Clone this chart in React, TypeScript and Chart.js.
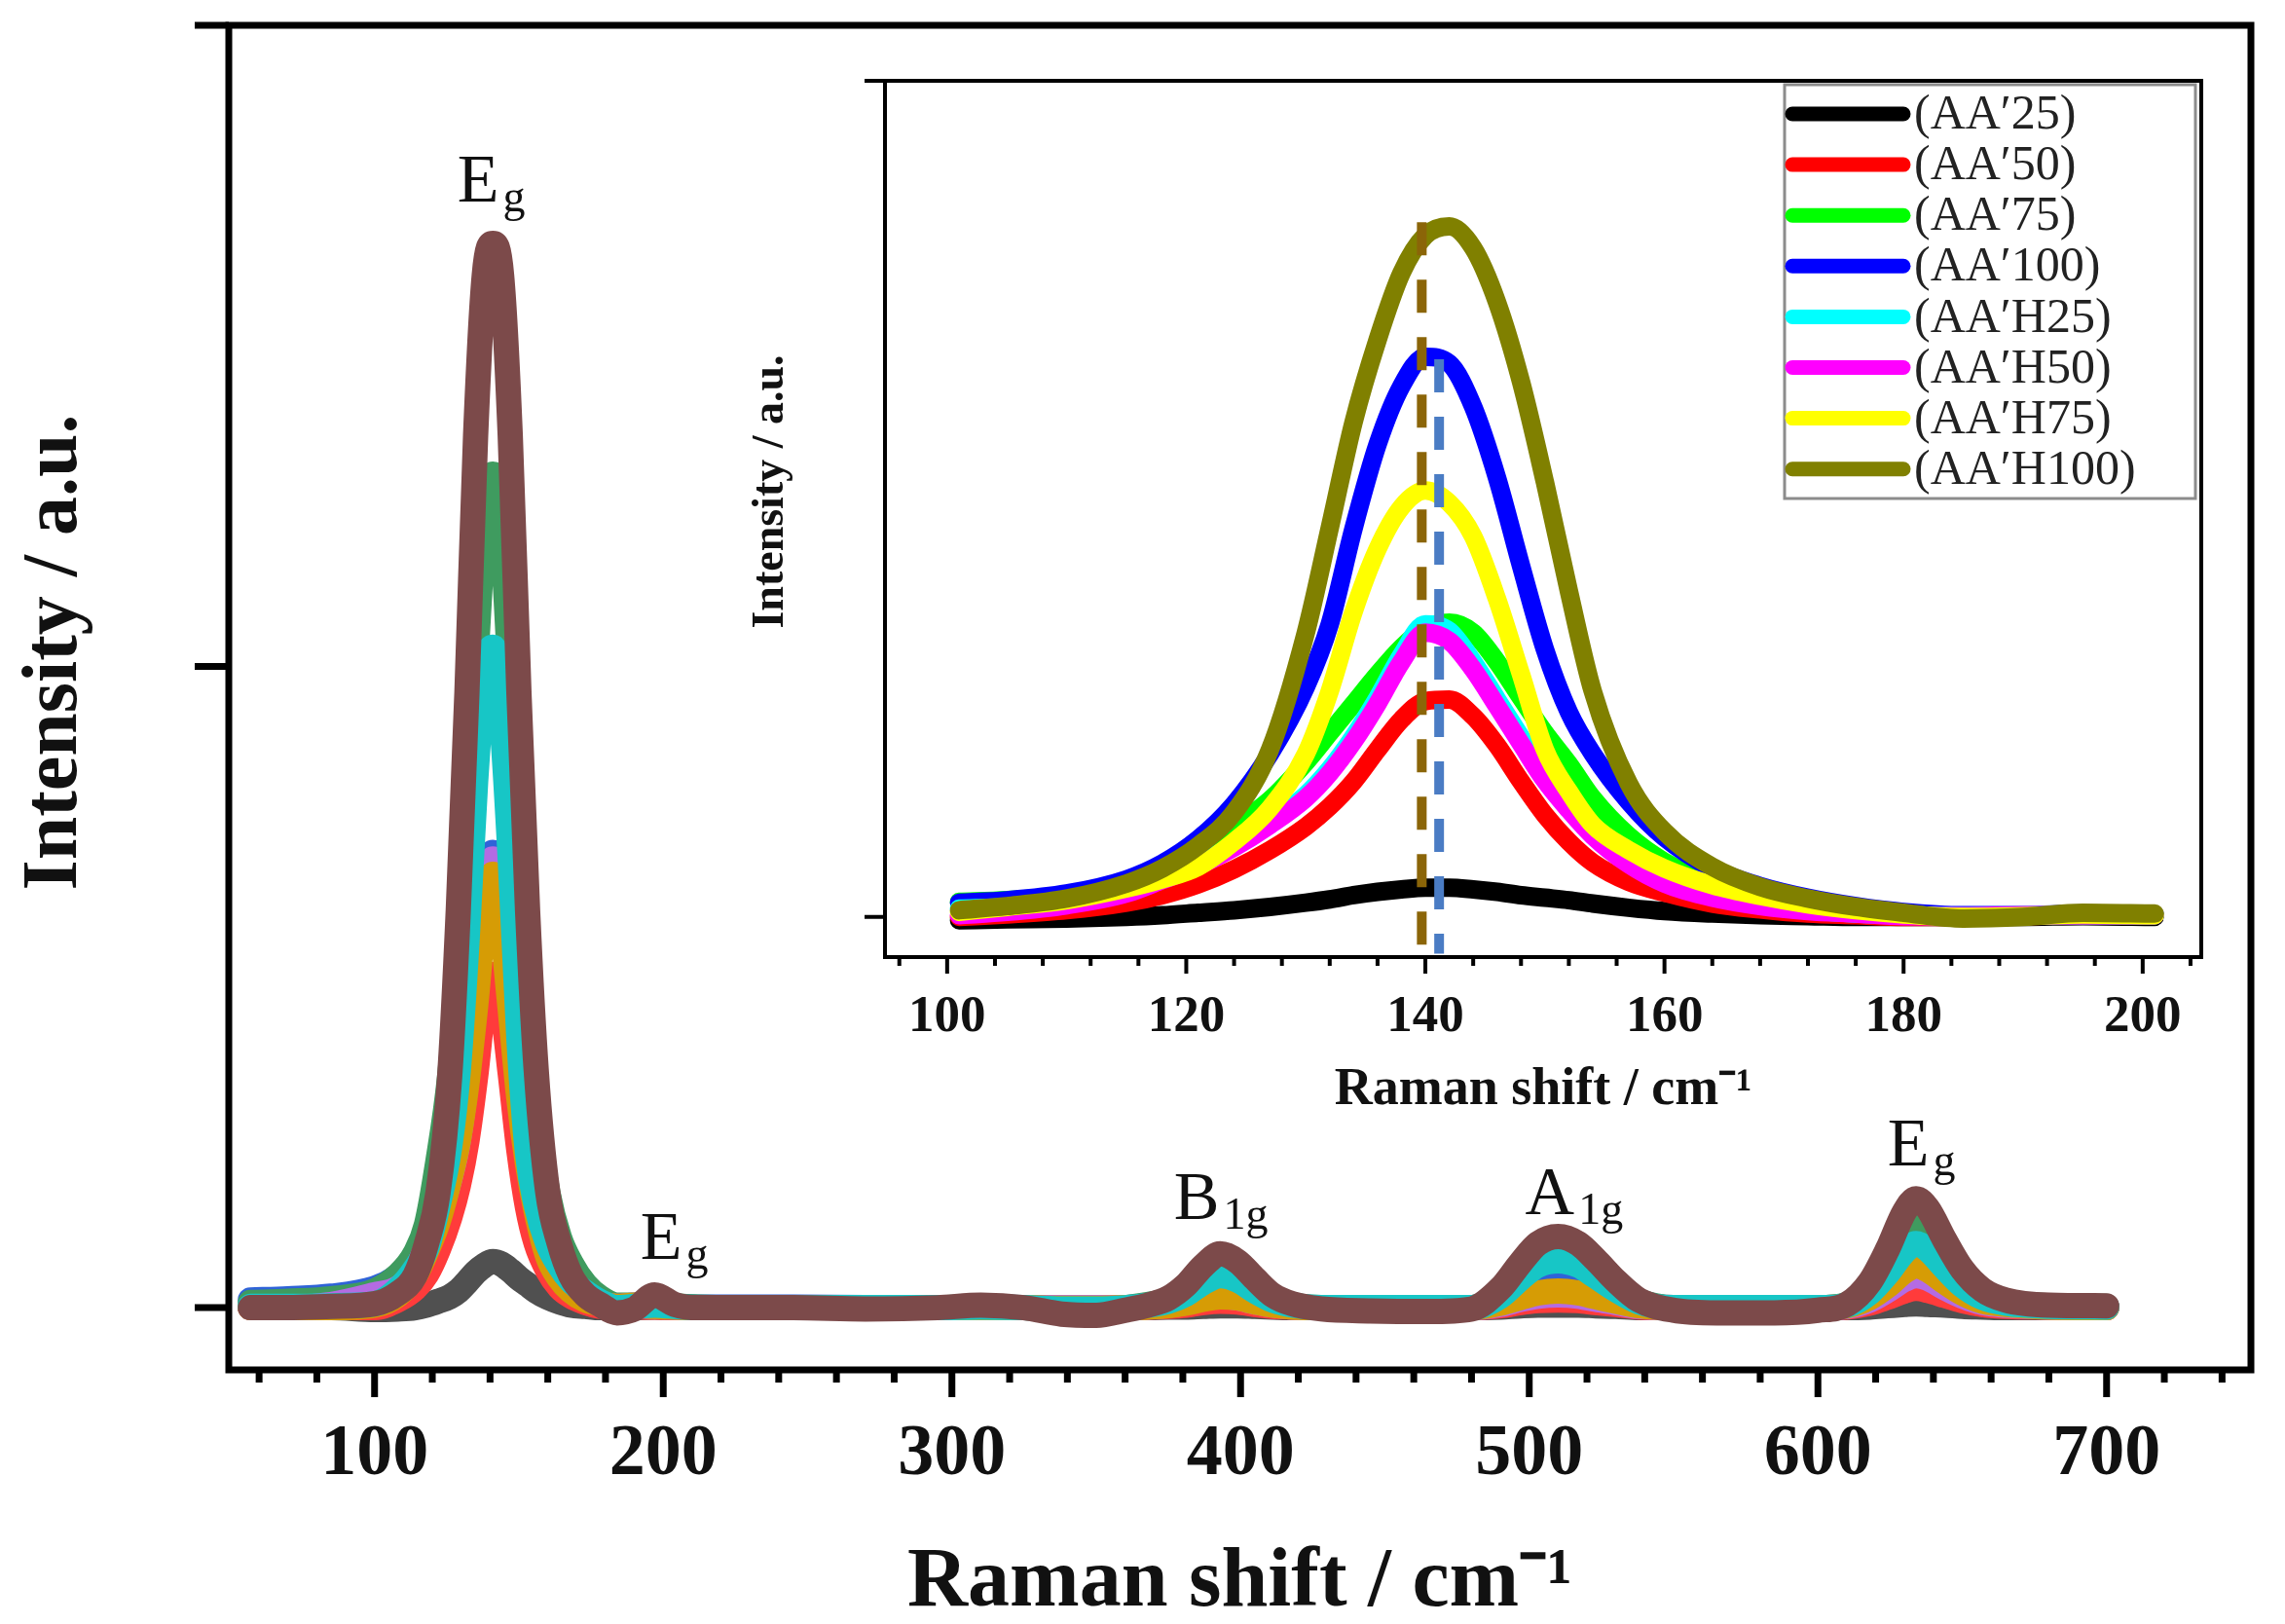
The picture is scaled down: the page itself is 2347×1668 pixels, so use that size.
import { useEffect, useRef } from "react";
import { Chart, registerables } from "chart.js";

Chart.register(...registerables);

const SERIF = '"Liberation Serif", "Times New Roman", Times, serif';

// ---- main spectrum (50 - 750 cm-1) ----
const mainShift = [
  57, 70, 85, 100, 108, 114, 118, 122, 126, 129, 132, 135, 138, 141, 144, 147, 150, 153, 156, 160, 164, 168, 173, 178,
  184, 190, 197, 204, 212, 225, 245, 270, 295, 310, 325, 338, 350, 360, 368, 375, 381, 387, 393, 399, 405, 411, 418,
  428, 445, 465, 480, 490, 497, 503, 510, 517, 523, 530, 538, 550, 565, 585, 600, 610, 618, 624, 630, 634, 638, 644,
  650, 657, 665, 680, 700,
];

const mainAA25 = [
  0, 0, 0, -0.003, -0.002, 0, 0.004, 0.01, 0.017, 0.026, 0.04, 0.055, 0.066, 0.072, 0.068, 0.058, 0.046, 0.036, 0.026,
  0.016, 0.009, 0.004, 0.002, 0, 0, 0,
  0.001, 0, 0, 0, 0, 0, 0, 0, 0, 0, 0, 0, 0, 0.001, 0.001, 0.002, 0.003, 0.003, 0.002, 0.001, 0, 0, 0, 0, 0,
  0.001, 0.003, 0.004, 0.004, 0.004, 0.003, 0.002, 0, 0, 0, 0, 0, 0, 0.001, 0.003, 0.005, 0.006, 0.005, 0.004, 0.002,
  0.001, 0, 0, 0,
];
const mainAA50 = [
  0, 0, 0, 0, 0.012, 0.03, 0.052, 0.09, 0.14, 0.19, 0.26, 0.36, 0.48, 0.52, 0.476, 0.365, 0.245, 0.156, 0.1, 0.058,
  0.032, 0.018, 0.008, 0.002, 0, 0.001,
  0.001, 0, 0, 0, 0, 0, 0, 0, 0, 0, 0, 0, 0.001, 0.002, 0.004, 0.008, 0.01, 0.009, 0.005, 0.002, 0.001, 0, 0, 0, 0,
  0.003, 0.008, 0.011, 0.012, 0.011, 0.008, 0.005, 0.001, 0, 0, 0, 0, 0.001, 0.007, 0.016, 0.026, 0.03, 0.027, 0.019,
  0.011, 0.005, 0.002, 0.001, 0,
];
const mainAA75 = [
  0.012, 0.014, 0.018, 0.03, 0.048, 0.072, 0.116, 0.19, 0.26, 0.34, 0.44, 0.56, 0.67, 0.71, 0.68, 0.57, 0.44, 0.33,
  0.24, 0.13, 0.082, 0.052, 0.028, 0.012, 0.002, 0.002,
  0.004, 0.002, 0.001, 0.001, 0.001, 0, 0, 0.001, 0, -0.001, -0.001, 0, 0.002, 0.006, 0.013, 0.023, 0.03, 0.026, 0.016,
  0.007, 0.002, 0, 0, 0, 0,
  0.011, 0.028, 0.04, 0.045, 0.04, 0.03, 0.017, 0.005, 0, 0, 0, 0, 0.003, 0.018, 0.04, 0.066, 0.075, 0.068, 0.047,
  0.026, 0.012, 0.005, 0.002, 0.001,
];
const mainAA100 = [
  0.008, 0.01, 0.014, 0.026, 0.05, 0.084, 0.13, 0.23, 0.36, 0.52, 0.72, 1.0, 1.22, 1.3, 1.22, 0.98, 0.66, 0.44, 0.3,
  0.18, 0.11, 0.07, 0.036, 0.016, 0.004, 0.004,
  0.006, 0.003, 0.001, 0, 0, 0, 0, 0.002, 0, -0.002, -0.002, 0, 0.005, 0.012, 0.024, 0.043, 0.055, 0.047, 0.029, 0.013,
  0.004, 0, 0, 0, 0,
  0.02, 0.05, 0.072, 0.08, 0.072, 0.054, 0.03, 0.01, 0, 0, 0, 0, 0.005, 0.031, 0.069, 0.114, 0.13, 0.118, 0.081, 0.046,
  0.021, 0.009, 0.003, 0.002,
];
const mainAAH25 = [
  0, 0, 0.005, 0.02, 0.03, 0.056, 0.094, 0.14, 0.2, 0.26, 0.36, 0.49, 0.63, 0.7, 0.62, 0.48, 0.34, 0.236, 0.16,
  0.086, 0.05, 0.028, 0.014, 0.006, 0.002, 0.004,
  0.002, 0.001, 0, 0, 0, 0, 0, 0, 0, 0, 0, 0, 0.001, 0.004, 0.008, 0.014, 0.018, 0.015, 0.009, 0.004, 0.001, 0, 0, 0, 0,
  0.005, 0.013, 0.018, 0.02, 0.018, 0.013, 0.008, 0.002, 0, 0, 0, 0, 0.002, 0.012, 0.027, 0.044, 0.05, 0.046, 0.031,
  0.018, 0.008, 0.004, 0.001, 0,
];
const mainAAH50 = [
  0, 0, 0, 0.004, 0.02, 0.05, 0.088, 0.134, 0.2, 0.26, 0.35, 0.47, 0.61, 0.676, 0.6, 0.465, 0.326, 0.224, 0.15, 0.08,
  0.046, 0.026, 0.012, 0.006, 0.002, 0.004,
  0.002, 0.001, 0, 0, 0, 0, 0, 0, 0, -0.001, -0.001, 0, 0.001, 0.003, 0.007, 0.013, 0.017, 0.015, 0.009, 0.004, 0.001,
  0, 0, 0, 0,
  0.007, 0.016, 0.023, 0.026, 0.023, 0.017, 0.01, 0.003, 0, 0, 0, 0, 0.003, 0.016, 0.034, 0.057, 0.065, 0.059, 0.04,
  0.023, 0.01, 0.005, 0.001, 0,
];
const mainAAH75 = [
  0.002, 0.002, 0.003, 0.006, 0.028, 0.06, 0.092, 0.16, 0.25, 0.37, 0.57, 0.82, 0.99, 1.03, 0.92, 0.7, 0.42, 0.24, 0.16,
  0.1, 0.066, 0.042, 0.024, 0.01, 0, 0.002,
  0.004, 0.002, 0, 0, 0, 0, 0, 0.001, 0, -0.002, -0.002, 0, 0.004, 0.01, 0.021, 0.039, 0.05, 0.043, 0.026, 0.012, 0.004,
  0, 0, 0, 0,
  0.018, 0.046, 0.066, 0.073, 0.066, 0.049, 0.028, 0.009, 0, 0, 0, 0, 0.004, 0.024, 0.053, 0.088, 0.1, 0.091, 0.062,
  0.035, 0.016, 0.007, 0.002, 0.001,
];
const mainAAH100 = [
  0, 0, 0.002, 0.006, 0.022, 0.05, 0.1, 0.18, 0.36, 0.62, 0.96, 1.36, 1.61, 1.66, 1.61, 1.36, 0.96, 0.62, 0.37, 0.18,
  0.1, 0.05, 0.02, 0.005, -0.008, -0.002,
  0.02, 0.005, 0, 0, 0, -0.002, 0, 0.004, 0, -0.01, -0.012, -0.004, 0.004, 0.015, 0.035, 0.065, 0.084, 0.072, 0.045,
  0.02, 0.006, -0.002, -0.005, -0.006, -0.002,
  0.03, 0.07, 0.1, 0.111, 0.1, 0.075, 0.042, 0.012, -0.004, -0.008, -0.008, -0.004, 0.005, 0.04, 0.09, 0.15, 0.17,
  0.155, 0.105, 0.06, 0.028, 0.012, 0.004, 0.003,
];

const mainSeries = [mainAA25, mainAA50, mainAA75, mainAA100, mainAAH25, mainAAH50, mainAAH75, mainAAH100];
const mainColors = ["#505050", "#ff3b3b", "#2f63d8", "#3f9b5f", "#b46be3", "#d69c05", "#17c6c6", "#7c4a4a"];

const mainMajorTicks = [100, 200, 300, 400, 500, 600, 700];
const mainMinorTicks = [
  60, 80, 120, 140, 160, 180, 220, 240, 260, 280, 320, 340, 360, 380, 420, 440, 460, 480, 520, 540, 560, 580, 620, 640,
  660, 680, 720, 740,
];
const mainYTicks = [0, 1, 2];

// Raman mode labels (anchor = left edge / baseline of the big letter, in data units)
const modeLabels = [
  { main: "E", sub: "g", shift: 128.7, level: 1.725 },
  { main: "E", sub: "g", shift: 192.1, level: 0.076 },
  { main: "B", sub: "1g", shift: 376.9, level: 0.138 },
  { main: "A", sub: "1g", shift: 498.6, level: 0.146 },
  { main: "E", sub: "g", shift: 624.1, level: 0.222 },
];

// ---- inset (zoom on the 140 cm-1 Eg band) ----
const insetShift = [
  101, 105, 110, 115, 118, 121, 124, 127, 130, 132, 134, 136, 138, 140, 142, 144, 146, 148, 150, 152, 154, 157, 160,
  164, 168, 172, 176, 180, 185, 190, 195, 201,
];
const insetAA25 = [
  -0.004, -0.003, -0.002, 0, 0.002, 0.005, 0.008, 0.012, 0.017, 0.021, 0.026, 0.03, 0.033, 0.035, 0.035, 0.033, 0.03,
  0.026, 0.023, 0.02, 0.016, 0.011, 0.007, 0.004, 0.002, 0.001, 0, 0, 0, 0, 0.001, 0,
];
const insetAA50 = [
  0, 0.003, 0.008, 0.017, 0.026, 0.039, 0.057, 0.08, 0.108, 0.132, 0.162, 0.2, 0.236, 0.258, 0.26, 0.24, 0.205,
  0.162, 0.122, 0.09, 0.065, 0.042, 0.029, 0.016, 0.009, 0.004, 0.002, 0, 0, 0.001, 0.002, 0.002,
];
const insetAA75 = [
  0.018, 0.02, 0.026, 0.042, 0.06, 0.08, 0.108, 0.14, 0.185, 0.22, 0.255, 0.29, 0.322, 0.345, 0.352, 0.34, 0.305,
  0.262, 0.22, 0.183, 0.142, 0.097, 0.066, 0.041, 0.026, 0.016, 0.009, 0.004, 0, 0.001, 0.003, 0.002,
];
const insetAA100 = [
  0.017, 0.02, 0.028, 0.045, 0.064, 0.093, 0.135, 0.195, 0.275, 0.35, 0.465, 0.565, 0.635, 0.67, 0.662, 0.61, 0.525,
  0.42, 0.32, 0.245, 0.195, 0.138, 0.095, 0.058, 0.037, 0.023, 0.013, 0.006, 0.002, 0.002, 0.004, 0.003,
];
const insetAAH25 = [
  0.01, 0.012, 0.018, 0.031, 0.047, 0.064, 0.086, 0.113, 0.146, 0.177, 0.216, 0.262, 0.313, 0.35, 0.342, 0.305, 0.26,
  0.215, 0.17, 0.134, 0.102, 0.067, 0.043, 0.025, 0.014, 0.008, 0.004, 0.002, 0.001, 0.002, 0.002, 0.002,
];
const insetAAH50 = [
  0.002, 0.006, 0.014, 0.028, 0.044, 0.061, 0.083, 0.11, 0.142, 0.172, 0.21, 0.255, 0.305, 0.34, 0.33, 0.296, 0.252,
  0.207, 0.163, 0.128, 0.097, 0.063, 0.04, 0.023, 0.013, 0.007, 0.004, 0.001, 0.001, 0.002, 0.002, 0.002,
];
const insetAAH75 = [
  0.006, 0.012, 0.02, 0.034, 0.045, 0.06, 0.09, 0.13, 0.195, 0.27, 0.365, 0.44, 0.49, 0.51, 0.495, 0.455, 0.38, 0.29,
  0.2, 0.15, 0.11, 0.08, 0.058, 0.038, 0.025, 0.015, 0.008, 0.003, 0, 0.001, 0.003, 0.002,
];
const insetAAH100 = [
  0.008, 0.013, 0.022, 0.04, 0.058, 0.085, 0.125, 0.2, 0.34, 0.465, 0.592, 0.69, 0.77, 0.815, 0.826, 0.8, 0.735,
  0.64, 0.52, 0.39, 0.27, 0.16, 0.102, 0.06, 0.036, 0.022, 0.012, 0.005, -0.002, 0, 0.005, 0.004,
];

const insetSeries = [insetAA25, insetAA50, insetAA75, insetAA100, insetAAH25, insetAAH50, insetAAH75, insetAAH100];
const insetLabels = ["(AA\u203225)", "(AA\u203250)", "(AA\u203275)", "(AA\u2032100)", "(AA\u2032H25)", "(AA\u2032H50)", "(AA\u2032H75)", "(AA\u2032H100)"];
const insetColors = ["#000000", "#ff0000", "#00ff00", "#0000ff", "#00ffff", "#ff00ff", "#ffff00", "#808000"];

// dashed guides at the peak maxima
const peakShifts = [139.7, 141.15];
const peakTops = [0.831, 0.667];
const peakColors = ["#8b6508", "#4a7cc4"];

const insetMajorTicks = [100, 120, 140, 160, 180, 200];
const insetMinorTicks = [
  96, 104, 108, 112, 116, 124, 128, 132, 136, 144, 148, 152, 156, 164, 168, 172, 176, 184, 188, 192, 196, 204,
];
const insetYTicks = [0, 1];

type FrameCfg = {
  yTicks: number[];
  major: number[];
  minor: number[];
  width: number;
  majorLen: number;
  minorLen: number;
  yLen: number;
};

const framePlugin = (cfg: FrameCfg) => ({
  id: "frame",
  afterDraw(chart: any) {
    const { ctx, chartArea: a } = chart;
    const xs = chart.scales.x;
    const ys = chart.scales.y;
    ctx.save();
    ctx.strokeStyle = "#000";
    ctx.lineWidth = cfg.width;
    ctx.strokeRect(a.left, a.top, a.right - a.left, a.bottom - a.top);
    ctx.beginPath();
    cfg.yTicks.forEach((v) => {
      const py = ys.getPixelForValue(v);
      ctx.moveTo(a.left - cfg.yLen, py);
      ctx.lineTo(a.left, py);
    });
    cfg.major.forEach((v) => {
      const px = xs.getPixelForValue(v);
      ctx.moveTo(px, a.bottom);
      ctx.lineTo(px, a.bottom + cfg.majorLen);
    });
    cfg.minor.forEach((v) => {
      const px = xs.getPixelForValue(v);
      ctx.moveTo(px, a.bottom);
      ctx.lineTo(px, a.bottom + cfg.minorLen);
    });
    ctx.stroke();
    ctx.restore();
  },
});

const sideTitle = (text: string, size: number, cx: number, cy: number) => ({
  id: "sideTitle",
  afterDraw(chart: any) {
    const ctx = chart.ctx;
    ctx.save();
    ctx.translate(cx, cy);
    ctx.rotate(-Math.PI / 2);
    ctx.font = `bold ${size}px ${SERIF}`;
    ctx.fillStyle = "#111";
    ctx.textAlign = "center";
    ctx.textBaseline = "middle";
    ctx.fillText(text, 0, 0);
    ctx.restore();
  },
});

const modePlugin = {
  id: "modes",
  afterDraw(chart: any) {
    const { ctx } = chart;
    const xs = chart.scales.x;
    const ys = chart.scales.y;
    ctx.save();
    ctx.fillStyle = "#111";
    ctx.textAlign = "left";
    ctx.textBaseline = "alphabetic";
    modeLabels.forEach((m) => {
      const px = xs.getPixelForValue(m.shift);
      const py = ys.getPixelForValue(m.level);
      ctx.font = `70px ${SERIF}`;
      ctx.fillText(m.main, px, py);
      const w = ctx.measureText(m.main).width;
      ctx.font = `46px ${SERIF}`;
      ctx.fillText(m.sub, px + w + 4, py + 10);
    });
    ctx.restore();
  },
};

const insetLegend = {
  id: "insetLegend",
  afterDraw(chart: any) {
    const { ctx, chartArea: a } = chart;
    const left = a.right - 428;
    const top = a.top + 4;
    ctx.save();
    ctx.fillStyle = "#fff";
    ctx.fillRect(left, top, 422, 425);
    ctx.strokeStyle = "#8c8c8c";
    ctx.lineWidth = 3;
    ctx.strokeRect(left, top, 422, 425);
    ctx.font = `50px ${SERIF}`;
    ctx.textAlign = "left";
    ctx.textBaseline = "middle";
    insetLabels.forEach((label, i) => {
      const cy = top + 30 + i * 52.1;
      ctx.strokeStyle = insetColors[i];
      ctx.lineWidth = 15;
      ctx.lineCap = "round";
      ctx.beginPath();
      ctx.moveTo(left + 8, cy);
      ctx.lineTo(left + 122, cy);
      ctx.stroke();
      ctx.fillStyle = "#222";
      ctx.fillText(label, left + 133, cy + 2);
    });
    ctx.restore();
  },
};

const App = () => {
  const mainRef = useRef<HTMLCanvasElement>(null);
  const insetRef = useRef<HTMLCanvasElement>(null);

  useEffect(() => {
    const mainCtx = mainRef.current?.getContext("2d");
    const insetCtx = insetRef.current?.getContext("2d");
    if (!mainCtx || !insetCtx) return;

    const tickFont = (size: number) => ({ family: SERIF, size, weight: "bold" as const });

    const mainChart = new Chart(mainCtx, {
      type: "line",
      data: {
        datasets: mainSeries.map((values, i) => ({
          label: insetLabels[i],
          data: mainShift.map((x, j) => ({ x, y: values[j] })),
          borderColor: mainColors[i],
          borderWidth: 26,
          borderCapStyle: "round",
          borderJoinStyle: "round",
          pointRadius: 0,
          cubicInterpolationMode: "monotone",
          order: 7 - i,
        })),
      },
      options: {
        animation: false,
        responsive: false,
        events: [],
        layout: { padding: { top: 26, right: 35, left: 0, bottom: 0 } },
        plugins: { legend: { display: false }, tooltip: { enabled: false } },
        scales: {
          x: {
            type: "linear",
            min: 49.5,
            max: 750,
            grid: { display: false },
            border: { display: false },
            afterBuildTicks: (s: any) => {
              s.ticks = mainMajorTicks.map((value) => ({ value }));
            },
            ticks: {
              autoSkip: false,
              maxRotation: 0,
              padding: 35,
              color: "#111",
              font: tickFont(74),
              callback: (v: any) => String(v),
            },
            title: {
              display: true,
              text: "Raman shift / cm\u207B\u00B9",
              color: "#111",
              padding: 0,
              font: { family: SERIF, size: 86, weight: "bold", lineHeight: 0.95 },
            },
            afterFit: (s: any) => {
              s.height = 261;
            },
          },
          y: {
            type: "linear",
            min: -0.097,
            max: 2,
            grid: { display: false },
            border: { display: false },
            ticks: { display: false, stepSize: 1 },
            afterFit: (s: any) => {
              s.width = 235;
            },
          },
        },
      },
      plugins: [
        framePlugin({ yTicks: mainYTicks, major: mainMajorTicks, minor: mainMinorTicks, width: 7, majorLen: 28, minorLen: 13, yLen: 35 }),
        sideTitle("Intensity / a.u.", 80, 57, 670),
        modePlugin,
      ],
    } as any);

    const insetChart = new Chart(insetCtx, {
      type: "line",
      data: {
        datasets: [
          ...insetSeries.map((values, i) => ({
            label: insetLabels[i],
            data: insetShift.map((x, j) => ({ x, y: values[j] })),
            borderColor: insetColors[i],
            borderWidth: 19,
            borderCapStyle: "round",
            borderJoinStyle: "round",
            pointRadius: 0,
            cubicInterpolationMode: "monotone",
            order: 8 - i,
          })),
          ...peakShifts.map((x, i) => ({
            label: "",
            data: [
              { x, y: peakTops[i] },
              { x, y: -0.044 },
            ],
            borderColor: peakColors[i],
            borderWidth: 10,
            borderDash: [34, 25],
            borderCapStyle: "butt",
            pointRadius: 0,
            tension: 0,
            order: 0,
          })),
        ],
      },
      options: {
        animation: false,
        responsive: false,
        events: [],
        layout: { padding: { top: 43, right: 59, left: 0, bottom: 0 } },
        plugins: { legend: { display: false }, tooltip: { enabled: false } },
        scales: {
          x: {
            type: "linear",
            min: 94.8,
            max: 204.9,
            grid: { display: false },
            border: { display: false },
            afterBuildTicks: (s: any) => {
              s.ticks = insetMajorTicks.map((value) => ({ value }));
            },
            ticks: {
              autoSkip: false,
              maxRotation: 0,
              padding: 23,
              color: "#111",
              font: tickFont(53),
              callback: (v: any) => String(v),
            },
            title: {
              display: true,
              text: "Raman shift / cm\u207B\u00B9",
              color: "#111",
              padding: 0,
              font: { family: SERIF, size: 54, weight: "bold", lineHeight: 1.1 },
            },
            afterFit: (s: any) => {
              s.height = 167;
            },
          },
          y: {
            type: "linear",
            min: -0.048,
            max: 1.0,
            grid: { display: false },
            border: { display: false },
            ticks: { display: false, stepSize: 1 },
            afterFit: (s: any) => {
              s.width = 209;
            },
          },
        },
      },
      plugins: [
        framePlugin({ yTicks: insetYTicks, major: insetMajorTicks, minor: insetMinorTicks, width: 4, majorLen: 17, minorLen: 9, yLen: 21 }),
        sideTitle("Intensity / a.u.", 46, 92, 465),
        insetLegend,
      ],
    } as any);

    return () => {
      mainChart.destroy();
      insetChart.destroy();
    };
  }, []);

  return (
    <div style={{ position: "absolute", left: 0, top: 0, width: 2347, height: 1668, background: "#fff" }}>
      <canvas
        ref={mainRef}
        width={2347}
        height={1668}
        style={{ position: "absolute", left: 0, top: 0, width: 2347, height: 1668 }}
      ></canvas>
      <canvas
        ref={insetRef}
        width={1620}
        height={1110}
        style={{ position: "absolute", left: 700, top: 40, width: 1620, height: 1110 }}
      ></canvas>
    </div>
  );
};

export default App;
